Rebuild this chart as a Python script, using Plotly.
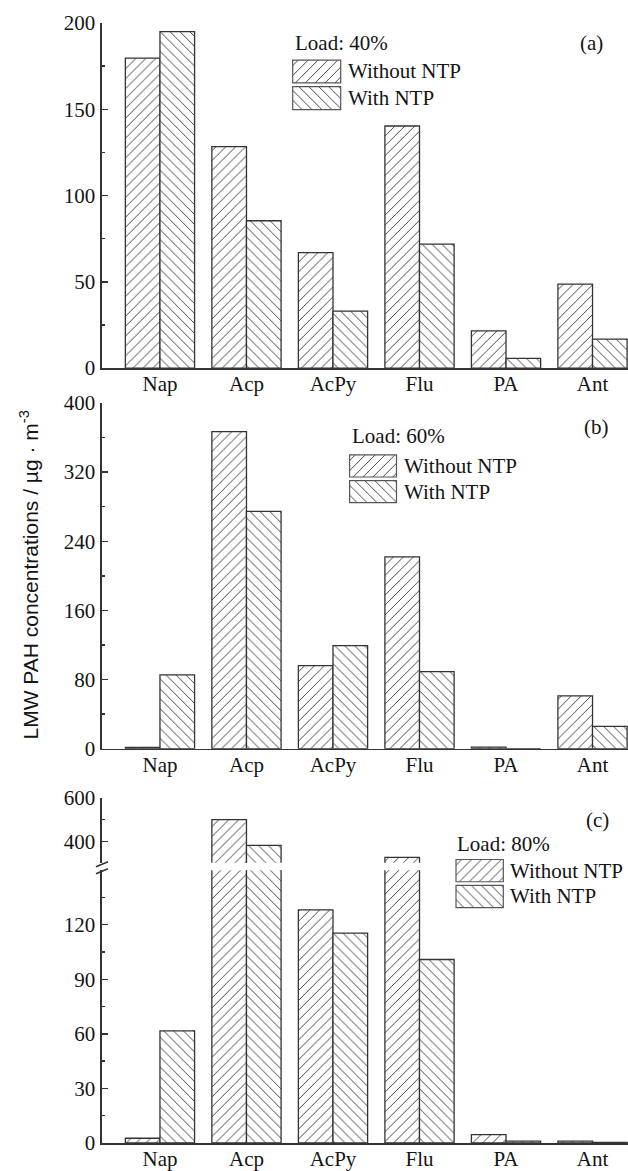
import plotly.graph_objects as go

# ---------------- data ----------------
categories = ["Nap", "Acp", "AcPy", "Flu", "PA", "Ant"]
series_names = ["Without NTP", "With NTP"]

a_without = [179.6, 128.3, 66.9, 140.3, 21.6, 48.6]
a_with = [195.0, 85.4, 33.0, 71.8, 5.6, 16.8]

b_without = [1.5, 366.9, 96.2, 222.0, 1.9, 61.2]
b_with = [85.4, 274.6, 119.3, 89.3, 0.0, 25.8]

c_without = [2.6, 500.0, 128.2, 327.0, 4.6, 1.0]
c_with = [61.7, 382.0, 115.4, 100.9, 1.0, 0.3]

panel_tags = ["(a)", "(b)", "(c)"]
load_labels = ["Load: 40%", "Load: 60%", "Load: 80%"]
y_title = "LMW PAH concentrations / µg · m<sup>-3</sup>"

# ---------------- layout geometry (page pixels) ----------------
W, H = 628, 1171
PLOT_L, PLOT_T, PLOT_B = 102, 23, 1146   # page coordinates of plot area
ML = PLOT_L
MT = PLOT_T
MB = H - PLOT_B
MR = 0
PW = W - ML - MR
PH = H - MT - MB


def X(px):
    return (px - PLOT_L) / PW


def Y(py):
    return (PLOT_B - py) / PH


SERIF = "Liberation Serif, Times New Roman, serif"
SANS = "Liberation Sans, Arial, sans-serif"
INK = "#141414"
EDGE = "#333333"
HATCH = "#454545"
shapes_pat = ["/", "\\"]


def pattern(i):
    return dict(shape=shapes_pat[i], fgcolor=HATCH, bgcolor="white",
                size=7, solidity=0.14, fillmode="replace")


fig = go.Figure()

panels = [
    ("x", "y", a_without, a_with),
    ("x2", "y2", b_without, b_with),
    ("x3", "y3", c_without, c_with),
    ("x4", "y4", c_without, c_with),
]
for xa, ya, s0, s1 in panels:
    for i, vals in enumerate([s0, s1]):
        fig.add_trace(go.Bar(
            x=categories, y=vals, name=series_names[i], xaxis=xa, yaxis=ya,
            marker=dict(color="white", pattern=pattern(i),
                        line=dict(color=EDGE, width=1.3)),
            showlegend=False, hoverinfo="x+y+name",
        ))

# ---------------- custom legend swatches ----------------
swatches = [
    (292.7, 340.7, 60.0, 110.0),
    (349.6, 396.5, 456.0, 504.0),
    (456.0, 503.3, 861.7, 910.0),
]
gap_px = 3.5
pad = 0.05
ann = []
for k, (sx0, sx1, st, sb) in enumerate(swatches):
    xn = f"x{5 + k}"
    yn = f"y{5 + k}"
    for i in range(2):
        fig.add_trace(go.Bar(
            x=[1], y=[series_names[i]], orientation="h", xaxis=xn, yaxis=yn,
            marker=dict(color="white", pattern=pattern(i),
                        line=dict(color="#555555", width=1.2)),
            width=0.86, showlegend=False, hoverinfo="skip",
        ))
    w = sx1 - sx0
    fig.update_layout(**{
        f"xaxis{5 + k}": dict(domain=[X(sx0 - pad * w), X(sx1 + pad * w)],
                              range=[-pad, 1 + pad], anchor=yn, visible=False,
                              fixedrange=True),
        f"yaxis{5 + k}": dict(domain=[Y(sb + gap_px / 2), Y(st - gap_px / 2)],
                              anchor=xn, range=[1.5, -0.5],
                              type="category", categoryorder="array",
                              categoryarray=series_names, visible=False,
                              fixedrange=True),
    })
    slot = (sb - st + gap_px) / 2
    for i in range(2):
        cy = st - gap_px / 2 + slot * (i + 0.5)
        ann.append(dict(x=X(sx1 + 5), y=Y(cy), xref="paper", yref="paper",
                        text=series_names[i], showarrow=False, xanchor="left",
                        yanchor="middle",
                        font=dict(family=SERIF, size=21, color=INK)))

# ---------------- main axes ----------------
xrange = [-0.67, 5.41]
xcommon = dict(range=xrange, type="category", showline=True, linecolor=EDGE,
               linewidth=1.6, ticks="", showgrid=False, zeroline=False,
               ticklabelstandoff=-4,
               tickfont=dict(family=SERIF, size=21, color=INK))
ycommon = dict(showline=True, linecolor=EDGE, linewidth=1.6, ticks="inside",
               ticklen=6, tickwidth=1.4, tickcolor=EDGE, showgrid=False,
               zeroline=False, ticklabelstandoff=1,
               tickfont=dict(family=SERIF, size=21, color=INK))

fig.update_layout(
    xaxis=dict(xcommon, anchor="y"),
    yaxis=dict(ycommon, anchor="x", domain=[Y(369), Y(23)], range=[0, 200],
               tickvals=[0, 50, 100, 150, 200],
               minor=dict(ticks="inside", ticklen=3, tickcolor=EDGE, dtick=25, tick0=0)),
    xaxis2=dict(xcommon, anchor="y2"),
    yaxis2=dict(ycommon, anchor="x2", domain=[Y(750.7), Y(404)], range=[0, 400],
                tickvals=[0, 80, 160, 240, 320, 400],
                minor=dict(ticks="inside", ticklen=3, tickcolor=EDGE, dtick=40, tick0=0)),
    xaxis3=dict(xcommon, anchor="y3"),
    yaxis3=dict(ycommon, anchor="x3", domain=[Y(1146), Y(872.5)], range=[0, 150],
                tickvals=[0, 30, 60, 90, 120],
                minor=dict(ticks="inside", ticklen=3, tickcolor=EDGE, dtick=15, tick0=0)),
    xaxis4=dict(range=xrange, type="category", matches="x3", anchor="y4",
                visible=False, showgrid=False),
    yaxis4=dict(ycommon, anchor="x4", domain=[Y(865), Y(800)], range=[302, 600],
                tickvals=[400, 600],
                minor=dict(ticks="inside", ticklen=3, tickcolor=EDGE, dtick=100, tick0=0)),
)

fig.update_layout(
    width=W, height=H,
    margin=dict(l=ML, r=MR, t=MT, b=MB, pad=0),
    paper_bgcolor="white", plot_bgcolor="white",
    barmode="group", bargap=0.2, bargroupgap=0.0,
    showlegend=False,
    font=dict(family=SERIF, color=INK),
)

# ---------------- annotations ----------------
tag_pos = [(591, 43.3), (596.7, 427.7), (597, 821.7)]
load_pos = [(293.0, 43.3), (350.0, 437.0), (455.0, 846.7)]
for k in range(3):
    tx, ty = tag_pos[k]
    ann.append(dict(x=X(tx), y=Y(ty), xref="paper", yref="paper",
                    text=panel_tags[k], showarrow=False, xanchor="center",
                    yanchor="middle", font=dict(family=SERIF, size=21, color=INK)))
    lx, ly = load_pos[k]
    ann.append(dict(x=X(lx), y=Y(ly), xref="paper", yref="paper",
                    text=load_labels[k], showarrow=False, xanchor="left",
                    yanchor="middle", font=dict(family=SERIF, size=21, color=INK)))
ann.append(dict(x=X(29), y=Y(577), xref="paper", yref="paper", text=y_title,
                showarrow=False, textangle=-90, xanchor="center", yanchor="middle",
                font=dict(family=SANS, size=21, color=INK)))
fig.update_layout(annotations=ann)

# ---------------- axis break marks (panel c) ----------------
brk = []
for y0 in (866.5, 873.5):
    brk.append(dict(type="line", xref="paper", yref="paper",
                    x0=X(96), y0=Y(y0 + 2.5), x1=X(108), y1=Y(y0 - 2.5),
                    line=dict(color=EDGE, width=1.5)))
fig.update_layout(shapes=brk)

page_fix = ("document.documentElement.style.margin='0';"
            "document.body.style.margin='0';"
            "document.documentElement.style.overflow='hidden';"
            "document.body.style.overflow='hidden';")
fig.write_html("out.html", post_script=page_fix,
               config={"displayModeBar": False, "staticPlot": True})
